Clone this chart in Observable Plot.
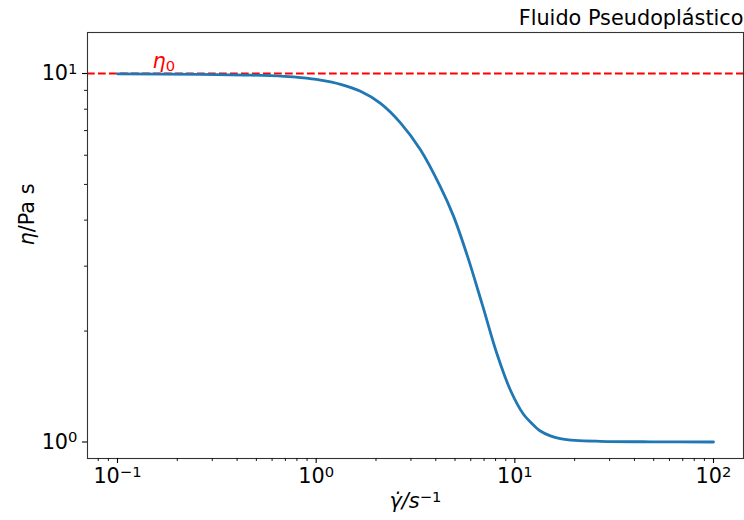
<!DOCTYPE html>
<html>
<head>
<meta charset="utf-8">
<script src="https://cdn.jsdelivr.net/npm/d3@7"></script>
<script src="https://cdn.jsdelivr.net/npm/@observablehq/plot@0.6"></script>
<style>
  html, body { margin: 0; padding: 0; background: #fff; }
  svg { display: block; }
</style>
</head>
<body>
<div id="chart"></div>
<script>
// Shear rate (1/s) and viscosity (Pa s)
const shearRate = [0.1, 0.262, 0.468, 0.693, 0.835, 1.052, 1.327, 1.672, 2.108, 2.657, 3.349, 4.221, 4.907, 5.769, 6.866, 8.166, 9.493, 11.03, 12.11, 13.44, 15.09, 16.93, 20.15, 26.91, 48.0, 100];
const viscosity = [9.98, 9.95, 9.90, 9.82, 9.747, 9.596, 9.347, 8.947, 8.300, 7.348, 6.207, 4.924, 4.108, 3.199, 2.355, 1.722, 1.384, 1.191, 1.126, 1.071, 1.039, 1.0214, 1.010, 1.0044, 1.0012, 1.0];
const eta0 = 10;

const xMajor = [0.1, 1, 10, 100];
const xMinor = [0.08, 0.09, 0.2, 0.3, 0.4, 0.5, 0.6, 0.7, 0.8, 0.9, 2, 3, 4, 5, 6, 7, 8, 9, 20, 30, 40, 50, 60, 70, 80, 90];
const yMajor = [1, 10];
const yMinor = [2, 3, 4, 5, 6, 7, 8, 9];

const titleText = "Fluido Pseudoplástico";
const data = shearRate.map((x, i) => ({x, y: viscosity[i]}));

const FS = 20.8;
const fmt = d => "10^" + Math.round(Math.log10(d));

const chart = Plot.plot({
  width: 744,
  height: 520,
  marginLeft: 87,
  marginRight: 1,
  marginTop: 32,
  marginBottom: 62,
  style: {fontFamily: "DejaVu Sans", fontSize: FS + "px", color: "#000", background: "#fff"},
  x: {type: "log", domain: [Math.pow(10, -1.151), Math.pow(10, 2.151)], axis: null},
  y: {type: "log", domain: [0.902, 12.92], axis: null},
  marks: [
    Plot.ruleY([eta0], {stroke: "#ff0000", strokeWidth: 2.1, strokeDasharray: "7.7,3.3"}),
    Plot.line(data, {x: "x", y: "y", stroke: "#1f77b4", strokeWidth: 2.8, curve: "catmull-rom"}),
    Plot.frame({stroke: "#333", strokeWidth: 1.1}),
    Plot.axisX(xMajor, {anchor: "bottom", tickSize: 5, tickPadding: 5, tickFormat: fmt, fontSize: FS, label: null, strokeWidth: 1.1}),
    Plot.axisX(xMinor, {anchor: "bottom", tickSize: 3, tickFormat: () => "", label: null, strokeWidth: 0.9}),
    Plot.axisY(yMajor, {anchor: "left", tickSize: 5, tickPadding: 5, tickFormat: fmt, fontSize: FS, label: null, strokeWidth: 1.1}),
    Plot.axisY(yMinor, {anchor: "left", tickSize: 3, tickFormat: () => "", label: null, strokeWidth: 0.9}),
    Plot.text([{x: 0.15, y: 10.35}], {x: "x", y: "y", text: () => "@ETA0", fill: "#ff0000", textAnchor: "start", lineAnchor: "bottom", fontSize: FS}),
    Plot.text([titleText], {frameAnchor: "top-right", textAnchor: "end", lineAnchor: "bottom", dy: -8, fontSize: FS}),
    Plot.text(["@XLABEL"], {frameAnchor: "bottom", lineAnchor: "bottom", dy: 49.5, fontSize: FS}),
    Plot.text(["@YLABEL"], {frameAnchor: "left", rotate: -90, lineAnchor: "middle", dx: -60, fontSize: FS})
  ]
});

document.getElementById("chart").appendChild(chart);

// Rich text: superscripts, subscripts, italics
d3.select(chart).selectAll("text").each(function () {
  const el = d3.select(this);
  const t = this.textContent;
  const m = /^10\^(.+)$/.exec(t);
  if (m) {
    el.text("10");
    el.append("tspan").attr("dy", "-0.42em").attr("font-size", "71%").text(m[1].replace("-", "\u2212"));
  } else if (t === "@ETA0") {
    el.text("");
    el.append("tspan").attr("font-style", "italic").text("η");
    el.append("tspan").attr("dy", "0.22em").attr("font-size", "71%").text("0");
  } else if (t === "@XLABEL") {
    el.text("");
    el.append("tspan").attr("font-style", "italic").text("γ\u0307");
    el.append("tspan").attr("font-style", "italic").text("/s");
    el.append("tspan").attr("dy", "-0.42em").attr("font-size", "71%").text("\u22121");
  } else if (t === "@YLABEL") {
    el.text("");
    el.append("tspan").attr("font-style", "italic").text("η");
    el.append("tspan").text("/Pa s");
  }
});
</script>
</body>
</html>
